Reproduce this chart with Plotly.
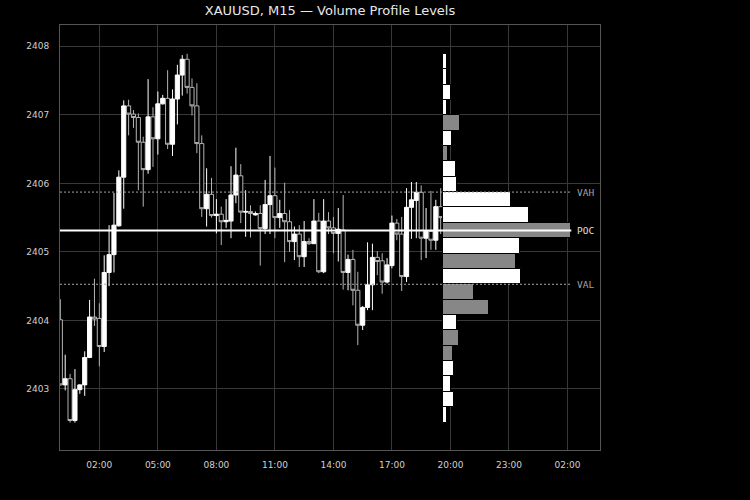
import numpy as np
import pandas as pd
import plotly.graph_objects as go

# ---------------- data ----------------
session_start = "2024-06-10 00:00"
n_candles = 79
times = pd.date_range(session_start, periods=n_candles, freq="15min")

opens = [2404.01, 2403.06, 2403.15, 2402.54, 2402.99, 2403.06, 2403.46, 2404.05, 2404.03, 2403.62,
         2404.70, 2404.96, 2405.38, 2406.09, 2407.13, 2407.01, 2406.96, 2406.60, 2406.20, 2406.97,
         2406.65, 2407.16, 2407.24, 2406.57, 2407.23, 2407.58, 2407.81, 2407.40, 2407.13, 2406.58,
         2405.63, 2405.84, 2405.53, 2405.55, 2405.44, 2405.45, 2405.83, 2406.11, 2405.58, 2405.59,
         2405.54, 2405.56, 2405.34, 2405.69, 2405.82, 2405.50, 2405.56, 2405.44, 2405.15, 2405.26,
         2404.93, 2405.15, 2405.12, 2405.45, 2404.71, 2405.45, 2405.35, 2405.27, 2405.32, 2404.70,
         2404.89, 2404.44, 2403.93, 2404.19, 2404.52, 2404.92, 2404.87, 2404.56, 2404.80, 2405.42,
         2405.26, 2404.64, 2405.65, 2405.75, 2405.87, 2405.20, 2405.30, 2405.17, 2405.66]
highs = [2404.31, 2403.50, 2403.22, 2403.29, 2403.07, 2403.55, 2404.30, 2404.61, 2404.25, 2404.95,
         2405.39, 2405.86, 2406.19, 2407.21, 2407.22, 2407.07, 2407.02, 2406.68, 2407.52, 2407.11,
         2407.34, 2407.29, 2407.65, 2407.37, 2407.73, 2407.87, 2407.89, 2407.53, 2407.46, 2406.70,
         2406.22, 2406.08, 2405.77, 2405.66, 2405.77, 2406.25, 2406.52, 2406.28, 2405.90, 2405.68,
         2405.59, 2405.68, 2406.05, 2406.40, 2406.23, 2405.76, 2406.01, 2405.61, 2405.37, 2405.39,
         2405.45, 2405.20, 2405.77, 2405.57, 2405.77, 2405.58, 2405.51, 2405.64, 2405.83, 2404.96,
         2405.03, 2404.71, 2404.21, 2405.14, 2405.12, 2405.01, 2404.98, 2404.91, 2405.53, 2405.48,
         2405.51, 2405.93, 2406.02, 2406.02, 2405.97, 2405.64, 2405.89, 2405.76, 2405.93]
lows = [2403.05, 2402.98, 2402.51, 2402.51, 2402.93, 2402.90, 2403.45, 2403.92, 2403.33, 2403.54,
        2404.50, 2404.70, 2405.37, 2405.63, 2406.70, 2406.81, 2405.90, 2405.66, 2406.14, 2406.24,
        2406.42, 2407.15, 2406.50, 2406.40, 2406.86, 2407.28, 2407.31, 2406.99, 2406.44, 2405.51,
        2405.37, 2405.50, 2405.27, 2405.10, 2405.35, 2405.20, 2405.71, 2405.42, 2405.22, 2405.21,
        2405.53, 2404.80, 2405.26, 2405.26, 2405.20, 2405.35, 2404.85, 2405.00, 2404.88, 2404.78,
        2404.78, 2405.10, 2405.12, 2404.69, 2404.69, 2405.26, 2404.98, 2404.86, 2404.45, 2404.44,
        2404.22, 2403.64, 2403.86, 2404.15, 2404.15, 2404.66, 2404.39, 2404.54, 2404.76, 2405.17,
        2404.43, 2404.56, 2405.19, 2405.20, 2404.88, 2404.91, 2405.03, 2405.03, 2405.26]
closes = [2403.06, 2403.15, 2402.54, 2402.99, 2403.06, 2403.46, 2404.05, 2404.02, 2403.62, 2404.70,
          2404.96, 2405.39, 2406.09, 2407.13, 2407.01, 2406.96, 2406.60, 2406.20, 2406.97, 2406.65,
          2407.16, 2407.24, 2406.57, 2407.23, 2407.58, 2407.81, 2407.40, 2407.13, 2406.58, 2405.63,
          2405.84, 2405.53, 2405.55, 2405.44, 2405.46, 2405.83, 2406.12, 2405.58, 2405.59, 2405.56,
          2405.56, 2405.34, 2405.69, 2405.82, 2405.50, 2405.56, 2405.44, 2405.15, 2405.26, 2404.93,
          2405.15, 2405.12, 2405.45, 2404.71, 2405.45, 2405.35, 2405.27, 2405.33, 2404.70, 2404.89,
          2404.44, 2403.93, 2404.19, 2404.52, 2404.92, 2404.86, 2404.56, 2404.81, 2405.42, 2405.26,
          2404.64, 2405.65, 2405.76, 2405.87, 2405.20, 2405.30, 2405.17, 2405.66, 2405.50]

# volume profile, 24 price bins from lowest to highest
profile_volume = [34, 107, 77, 107, 97, 157, 137, 457, 307, 777, 727, 767,
                  1280, 857, 677, 137, 127, 44, 87, 167, 34, 77, 34, 34]
profile_side = ["buy", "buy", "buy", "buy", "sell", "sell", "buy", "sell", "sell", "buy", "sell", "buy",
                "sell", "buy", "buy", "buy", "buy", "sell", "buy", "sell", "buy", "buy", "buy", "buy"]
value_area_bins = (9, 14)  # lowest and highest bin in the value area

y_tickvals = [2403, 2404, 2405, 2406, 2407, 2408]

# ---------------- derived ----------------
lo, hi = min(lows), max(highs)
nb = len(profile_volume)
edges = np.linspace(lo, hi, nb + 1)
centers = (edges[:-1] + edges[1:]) / 2
bin_h = (hi - lo) / nb
vmax = max(profile_volume)
poc = centers[int(np.argmax(profile_volume))]
val = edges[value_area_bins[0]]
vah = edges[value_area_bins[1] + 1]
side_color = {"buy": "#ffffff", "sell": "#878787"}
bar_colors = [side_color[s] for s in profile_side]

x2_range = [-vmax * 2.995, vmax * 1.224]

BG = "#000000"
GRID = "#383838"
FONT = "DejaVu Sans"
MONO = "DejaVu Sans Mono"

fig = go.Figure()
fig.add_trace(go.Candlestick(
    x=times, open=opens, high=highs, low=lows, close=closes,
    increasing=dict(line=dict(color="#ffffff", width=1), fillcolor="#ffffff"),
    decreasing=dict(line=dict(color="#b4b4b4", width=1), fillcolor="#000000"),
    whiskerwidth=0, showlegend=False, xaxis="x", yaxis="y",
))
fig.add_trace(go.Bar(
    x=profile_volume, y=centers, orientation="h", width=bin_h, base=0,
    marker=dict(color=bar_colors, line=dict(color="#000000", width=1)),
    showlegend=False, xaxis="x2", yaxis="y",
))

t0 = pd.Timestamp(session_start)
fig.update_layout(
    width=750, height=500,
    paper_bgcolor=BG, plot_bgcolor=BG,
    margin=dict(l=60, r=150, t=25, b=50),
    title=dict(text="XAUUSD, M15 — Volume Profile Levels", x=330 / 750, xanchor="center",
               y=1 - 10 / 500, yanchor="middle", font=dict(family=FONT, size=13, color="#e8e8e8")),
    xaxis=dict(type="date",
               range=[t0 - pd.Timedelta(minutes=1), t0 + pd.Timedelta(hours=27, minutes=40)],
               tick0=t0 + pd.Timedelta(hours=2), dtick=3 * 3600 * 1000, tickformat="%H:%M",
               showgrid=True, gridcolor=GRID, gridwidth=1, zeroline=False,
               showline=True, linecolor="#555555", mirror=True, ticks="",
               ticklabelstandoff=6,
               tickfont=dict(family=FONT, size=9, color="#d0d0d0"),
               rangeslider=dict(visible=False)),
    xaxis2=dict(overlaying="x", range=x2_range, visible=False, fixedrange=True),
    yaxis=dict(range=[2402.11, 2408.31], tickvals=y_tickvals, tickformat="d",
               showgrid=True, gridcolor=GRID, gridwidth=1, zeroline=False,
               showline=True, linecolor="#555555", mirror=True, ticks="",
               ticklabelstandoff=8,
               tickfont=dict(family=FONT, size=9, color="#d0d0d0")),
    font=dict(family=FONT, color="#d0d0d0"),
    bargap=0,
    boxgap=0.08, boxgroupgap=0.08,
)

for level, style in [(vah, dict(color="#a8a8a8", width=1, dash="2px,2px")),
                     (val, dict(color="#a8a8a8", width=1, dash="2px,2px")),
                     (poc, dict(color="#ffffff", width=2))]:
    fig.add_shape(type="line", xref="x2", yref="y", x0=x2_range[0], x1=vmax,
                  y0=level, y1=level, line=style, layer="above")

for name, level, col in [("VAH", vah, "#a0a0a0"), ("POC", poc, "#e0e0e0"), ("VAL", val, "#a0a0a0")]:
    fig.add_annotation(x=vmax, y=level, xref="x2", yref="y", text=name, showarrow=False,
                       xanchor="left", yanchor="middle", xshift=4,
                       font=dict(family=MONO, size=9.5, color=col))

fig.write_html("out.html", config={"displayModeBar": False},
               post_script="document.body.style.margin='0';document.body.style.background='#000';")
